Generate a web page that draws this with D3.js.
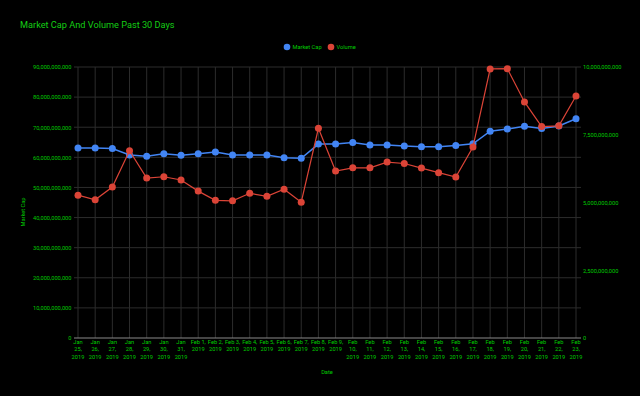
<!DOCTYPE html>
<html>
<head>
<meta charset="utf-8">
<script src="https://cdn.jsdelivr.net/npm/d3@7"></script>
<style>
  html, body { margin: 0; padding: 0; background: #000; }
  svg { display: block; font-family: Roboto, Arial, sans-serif; }
</style>
</head>
<body>
<div id="chart"></div>
<script>
const dates = [
  'Jan 25, 2019', 'Jan 26, 2019', 'Jan 27, 2019', 'Jan 28, 2019', 'Jan 29, 2019',
  'Jan 30, 2019', 'Jan 31, 2019', 'Feb 1, 2019', 'Feb 2, 2019', 'Feb 3, 2019',
  'Feb 4, 2019', 'Feb 5, 2019', 'Feb 6, 2019', 'Feb 7, 2019', 'Feb 8, 2019',
  'Feb 9, 2019', 'Feb 10, 2019', 'Feb 11, 2019', 'Feb 12, 2019', 'Feb 13, 2019',
  'Feb 14, 2019', 'Feb 15, 2019', 'Feb 16, 2019', 'Feb 17, 2019', 'Feb 18, 2019',
  'Feb 19, 2019', 'Feb 20, 2019', 'Feb 21, 2019', 'Feb 22, 2019', 'Feb 23, 2019'
];

// market cap, USD
const marketCap = [
  63.1e9, 63.1e9, 62.9e9, 60.8e9, 60.4e9, 61.2e9, 60.7e9, 61.2e9, 61.8e9, 60.8e9,
  60.8e9, 60.8e9, 59.9e9, 59.7e9, 64.4e9, 64.4e9, 64.9e9, 64.1e9, 64.1e9, 63.8e9,
  63.5e9, 63.5e9, 63.9e9, 64.5e9, 68.7e9, 69.4e9, 70.3e9, 69.6e9, 70.4e9, 72.8e9
];

// 24h volume, USD (right axis)
const volume = [
  5.27e9, 5.10e9, 5.57e9, 6.91e9, 5.90e9, 5.95e9, 5.83e9, 5.42e9, 5.08e9, 5.06e9,
  5.34e9, 5.23e9, 5.49e9, 5.01e9, 7.74e9, 6.16e9, 6.28e9, 6.28e9, 6.49e9, 6.44e9,
  6.27e9, 6.10e9, 5.94e9, 7.05e9, 9.93e9, 9.94e9, 8.71e9, 7.80e9, 7.83e9, 8.93e9
];

const leftTicks = [0, 10e9, 20e9, 30e9, 40e9, 50e9, 60e9, 70e9, 80e9, 90e9];
const rightTicks = [0, 2.5e9, 5e9, 7.5e9, 10e9];

const W = 640, H = 396;
const txt = '#00cc00';
const fs = 5.7;
const fmt = d3.format(',');

const svg = d3.select('#chart').append('svg')
  .attr('width', W)
  .attr('height', H)
  .style('background', '#000');

const x = d3.scalePoint().domain(dates).range([78, 576]);
const yL = d3.scaleLinear().domain([0, 90e9]).range([338, 67]);
const yR = d3.scaleLinear().domain([0, 10e9]).range([338, 67]);

// title
svg.append('text')
  .attr('x', 20)
  .attr('y', 28.3)
  .attr('font-size', 9.2)
  .attr('fill', '#14cc14')
  .text('Market Cap And Volume Past 30 Days');

// legend
const legend = svg.append('g').attr('font-size', fs).attr('fill', txt);
[['Market Cap', '#4285f4', 287], ['Volume', '#db4437', 331]].forEach(d => {
  legend.append('circle').attr('cx', d[2]).attr('cy', 47).attr('r', 3.3).attr('fill', d[1]);
  legend.append('text').attr('x', d[2] + 5.5).attr('y', 49).text(d[0]);
});

// grid
const grid = svg.append('g');
grid.selectAll('.hg').data(leftTicks.slice(1)).enter().append('line')
  .attr('x1', 74).attr('x2', 581)
  .attr('y1', d => yL(d)).attr('y2', d => yL(d))
  .attr('stroke', '#2c2c2c').attr('stroke-width', 1);
grid.selectAll('.vg').data(dates).enter().append('line')
  .attr('x1', d => x(d)).attr('x2', d => x(d))
  .attr('y1', 67).attr('y2', 338)
  .attr('stroke', '#2c2c2c').attr('stroke-width', 1);
grid.append('line')
  .attr('x1', 74).attr('x2', 581)
  .attr('y1', yL(0)).attr('y2', yL(0))
  .attr('stroke', '#8a8a8a').attr('stroke-width', 1);

// left axis
const axL = svg.append('g')
  .attr('transform', 'translate(71.5,0)')
  .call(d3.axisLeft(yL).tickValues(leftTicks).tickFormat(fmt).tickSize(0).tickPadding(0));
axL.select('.domain').remove();
axL.selectAll('text').attr('fill', txt).attr('font-size', fs).attr('font-family', 'Roboto, Arial, sans-serif');

// right axis
const axR = svg.append('g')
  .attr('transform', 'translate(583,0)')
  .call(d3.axisRight(yR).tickValues(rightTicks).tickFormat(fmt).tickSize(0).tickPadding(0));
axR.select('.domain').remove();
axR.selectAll('text').attr('fill', txt).attr('font-size', fs).attr('font-family', 'Roboto, Arial, sans-serif');

// x axis labels, wrapped
const xLab = svg.append('g').attr('font-size', fs).attr('fill', txt).attr('text-anchor', 'middle');
dates.forEach(d => {
  const words = d.split(' ');
  const lines = [];
  let cur = '';
  const probe = xLab.append('text');
  words.forEach(w => {
    const test = cur ? cur + ' ' + w : w;
    probe.text(test);
    if (cur && probe.node().getComputedTextLength() > 16.2) {
      lines.push(cur);
      cur = w;
    } else {
      cur = test;
    }
  });
  lines.push(cur);
  probe.remove();
  const t = xLab.append('text').attr('x', x(d)).attr('y', 343.8);
  lines.forEach((l, i) => {
    t.append('tspan').attr('x', x(d)).attr('dy', i ? 7.6 : 0).text(l);
  });
});

// axis titles
svg.append('text')
  .attr('x', 327).attr('y', 374.3)
  .attr('font-size', fs).attr('fill', txt).attr('text-anchor', 'middle')
  .text('Date');
svg.append('text')
  .attr('transform', 'translate(25,212) rotate(-90)')
  .attr('font-size', fs).attr('fill', txt).attr('text-anchor', 'middle')
  .text('Market Cap');

// series
const series = [
  { values: marketCap, y: yL, color: '#4285f4', w: 1.5 },
  { values: volume, y: yR, color: '#db4437', w: 1.2 }
];
series.forEach(s => {
  const line = d3.line()
    .x((d, i) => x(dates[i]))
    .y(d => s.y(d));
  svg.append('path')
    .datum(s.values)
    .attr('d', line)
    .attr('fill', 'none')
    .attr('stroke', s.color)
    .attr('stroke-width', s.w);
  svg.append('g').selectAll('circle').data(s.values).enter().append('circle')
    .attr('cx', (d, i) => x(dates[i]))
    .attr('cy', d => s.y(d))
    .attr('r', 3.5)
    .attr('fill', s.color);
});
</script>
</body>
</html>
